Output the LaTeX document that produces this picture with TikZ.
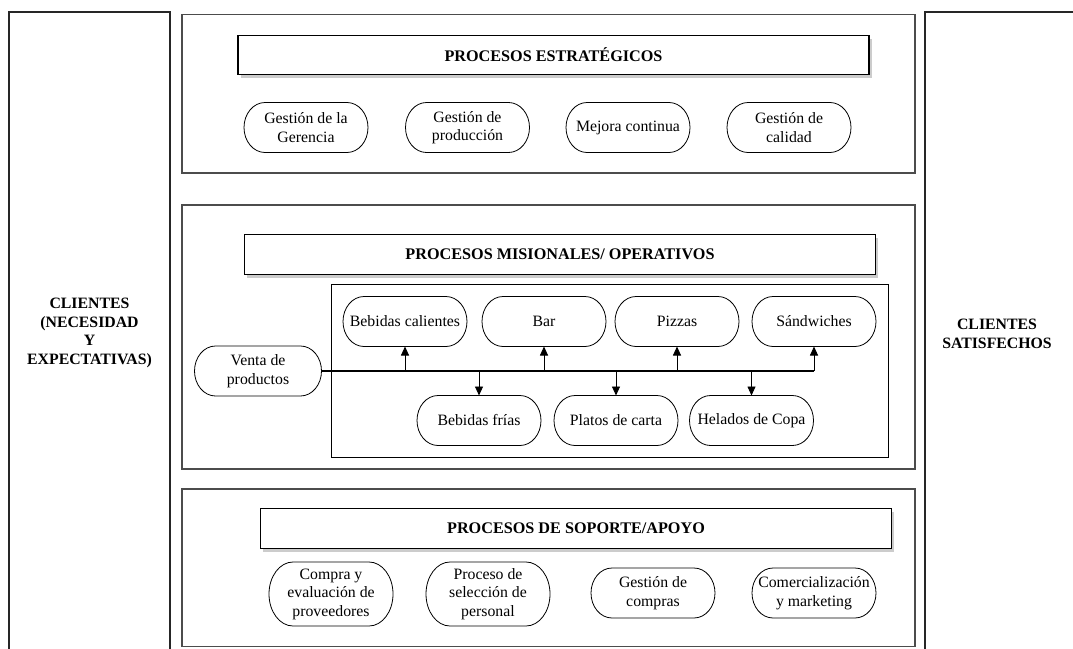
\documentclass[tikz,border=0pt]{standalone}
\usepackage{fontspec}
\setmainfont{Liberation Serif}
\usetikzlibrary{arrows.meta,shadows,calc}

% terminator outline around a named rectangular node: straight top and
% bottom, half-elliptic ends of radii #2 (horizontal) and #3 (vertical)
\newcommand{\termoutline}[3]{%
  \draw[outline] ($(#1.north west)+(#2,0pt)$) -- ($(#1.north east)+(-#2,0pt)$)
    arc[start angle=90, end angle=-90, x radius=#2, y radius=#3]
    -- ($(#1.south west)+(#2,0pt)$)
    arc[start angle=270, end angle=90, x radius=#2, y radius=#3] -- cycle;}

\begin{document}
\begin{tikzpicture}[x=1pt,y=-1pt,
  font=\fontsize{15.8}{18.5}\selectfont,
  section/.style={draw=black!70, line width=1.3pt},
  panel/.style={draw=black!85, line width=1.2pt},
  header/.style={draw=black, line width=1.1pt, fill=white,
    minimum width=631pt, minimum height=39.5pt, inner sep=0pt,
    font=\fontsize{16.2}{19}\selectfont\bfseries,
    drop shadow={shadow xshift=2.5pt, shadow yshift=-3.5pt, fill=black!40, opacity=0.5}},
  proc/.style={minimum width=124pt, minimum height=50pt, inner sep=0pt,
    outer sep=0pt, align=center},
  tall/.style={proc, minimum height=64pt},
  outline/.style={draw=black, line width=0.8pt},
  trunk/.style={draw=black, line width=1.8pt},
  branch/.style={draw=black, line width=0.9pt, -{Triangle[width=8pt,length=9pt]}},
  label/.style={align=center, font=\fontsize{15.8}{18.8}\selectfont\bfseries, inner sep=0pt}
]
\useasboundingbox (0,0) rectangle (1073,648);

% side panels (open towards the page edges)
\draw[panel] (9,650) -- (9,12) -- (170,12) -- (170,650);
\draw[panel] (925,650) -- (925,12) -- (1075,12);
\node[label] (clientesin) at (89.5,333) {CLIENTES\\(NECESIDAD\\Y\\EXPECTATIVAS)};
\node[label] (clientesout) at (997,334) {CLIENTES\\SATISFECHOS};

% strategic processes
\draw[section] (182,14.5) rectangle (915,173);
\node[header] (hstrat) at (553.5,55) {PROCESOS ESTRATÉGICOS};
\node[proc] (g1) at (306,127.5) {Gestión de la\\Gerencia};
\node[proc] (g2) at (467.5,127.5) {Gestión de\\producción};
\node[proc] (g3) at (628,127.5) {Mejora continua};
\node[proc] (g4) at (789,127.5) {Gestión de\\calidad};

% mission / operative processes
\draw[section] (182,205) rectangle (915,469);
\node[header] (hmis) at (560,254.5) {PROCESOS MISIONALES/ OPERATIVOS};
\draw[draw=black, line width=0.9pt] (331,284.5) rectangle (888,457);
\node[proc, minimum width=127pt] (venta) at (258,371) {Venta de\\productos};
\node[proc] (bc)  at (405,321.5) {Bebidas calientes};
\node[proc] (bar) at (544,321.5) {Bar};
\node[proc] (piz) at (677,321.5) {Pizzas};
\node[proc] (san) at (814,321.5) {Sándwiches};
\node[proc] (bf)  at (479,420.5) {Bebidas frías};
\node[proc] (pc)  at (616,420.5) {Platos de carta};
\node[proc] (hc)  at (751.5,420.5) {Helados de Copa};

\coordinate (tend) at (san.south |- venta.east);
\draw[trunk] (venta.east) -- (tend);
\foreach \n in {bc,bar,piz,san}
  \draw[branch] (\n.south |- venta.east) -- (\n.south);
\foreach \n in {bf,pc,hc}
  \draw[branch] (\n.north |- venta.east) -- (\n.north);

% support processes
\draw[section] (182,489) rectangle (915,646.5);
\node[header] (hsup) at (576,528.5) {PROCESOS DE SOPORTE/APOYO};
\node[tall] (s1) at (331,594) {Compra y\\evaluación de\\proveedores};
\node[tall] (s2) at (488,594) {Proceso de\\selección de\\personal};
\node[proc] (s3) at (653,593) {Gestión de\\compras};
\node[proc] (s4) at (814,593) {Comercialización\\y marketing};

% outlines of the process terminators
\foreach \n in {g1,g2,g3,g4,venta,bc,bar,piz,san,bf,pc,hc,s3,s4}
  {\termoutline{\n}{21pt}{25pt}}
\foreach \n in {s1,s2}
  {\termoutline{\n}{24pt}{32pt}}
\end{tikzpicture}
\end{document}
